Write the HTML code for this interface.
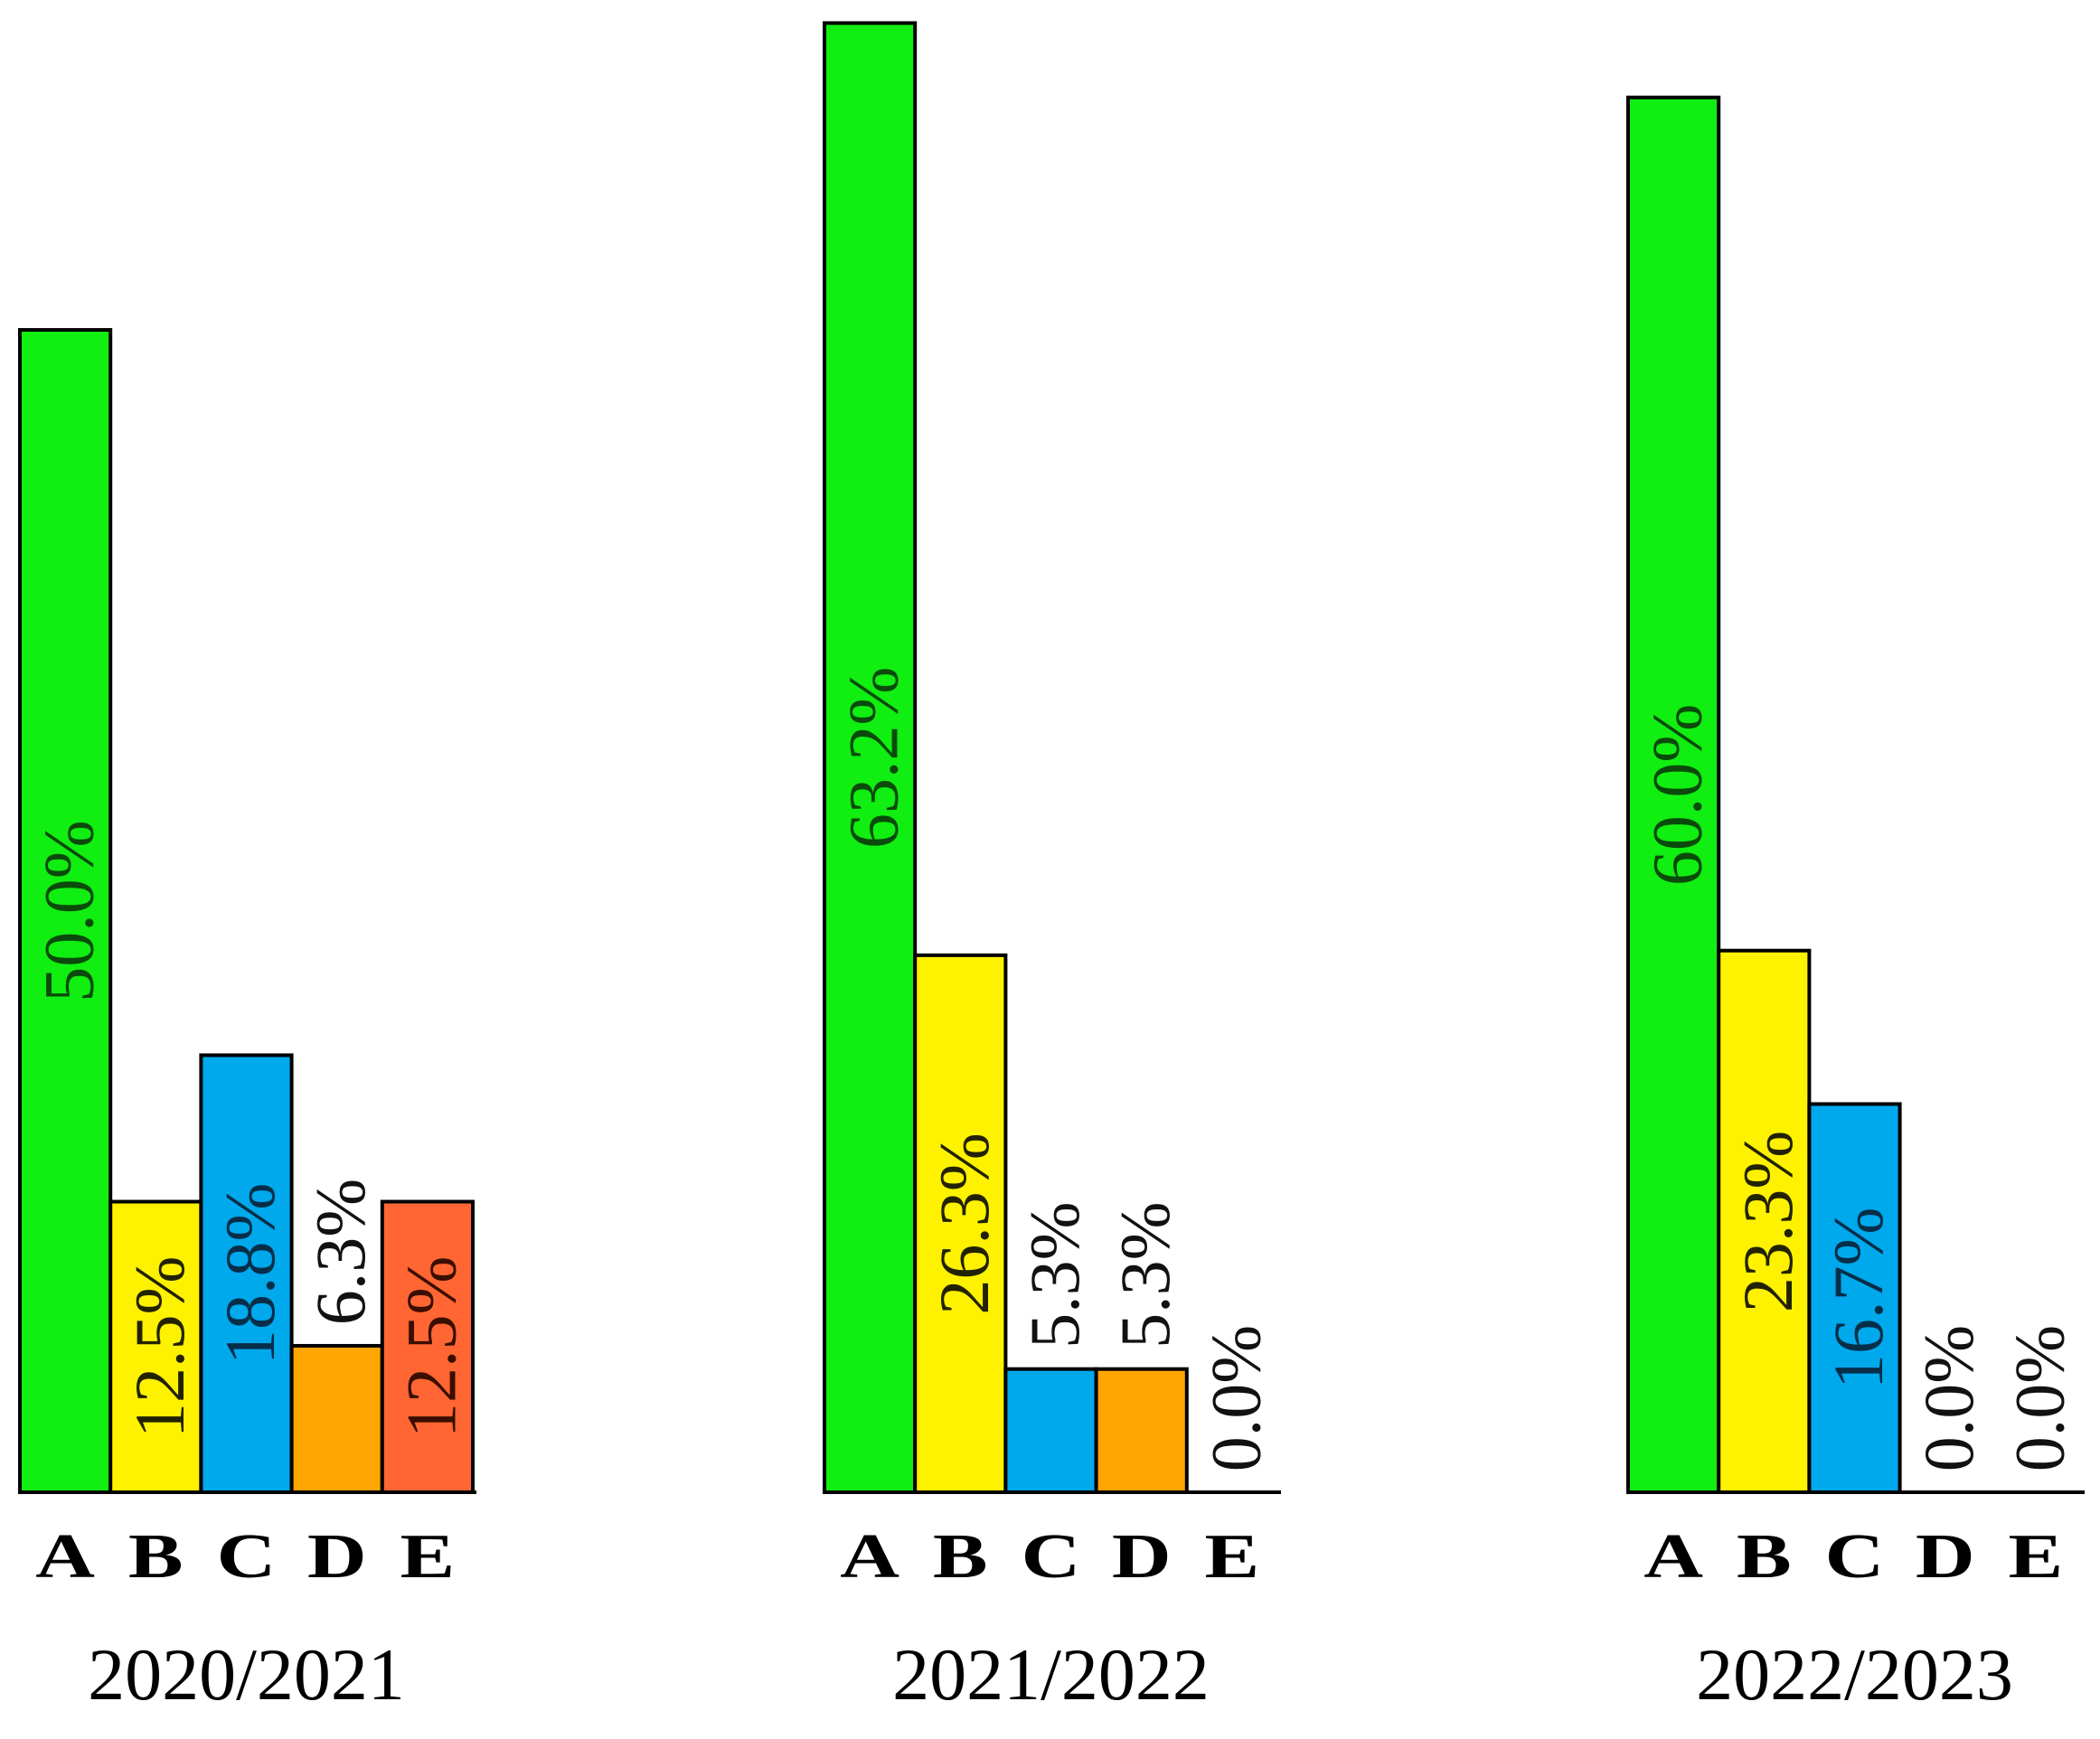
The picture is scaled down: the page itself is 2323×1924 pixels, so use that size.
<!DOCTYPE html>
<html><head><meta charset="utf-8"><style>
html,body{margin:0;padding:0;background:#fff;}
svg{display:block;}
text{font-family:"Liberation Serif",serif;}
</style></head>
<body>
<svg id="chart" width="2323" height="1924" viewBox="0 0 2323 1924" xmlns="http://www.w3.org/2000/svg"></svg>
<script>
const categories = ["A","B","C","D","E"];
const years = ["2020/2021","2021/2022","2022/2023"];
const values2020 = [50.0,12.5,18.8,6.3,12.5];
const values2021 = [63.2,23.1,5.3,5.3,0.0];
const values2022 = [60.0,23.3,16.7,0.0,0.0];
const valueLabels2020 = ["50.0%","12.5%","18.8%","6.3%","12.5%"];
const valueLabels2021 = ["63.2%","26.3%","5.3%","5.3%","0.0%"];
const valueLabels2022 = ["60.0%","23.3%","16.7%","0.0%","0.0%"];

const allValues=[values2020,values2021,values2022];
const allLabels=[valueLabels2020,valueLabels2021,valueLabels2022];
const fills=["#11ee11","#fff200","#00a8ec","#ffa500","#ff6633"];
const inkInside=["#0a4a0a","#222200","#062e48","#222","#3a0e00"];
const NS="http://www.w3.org/2000/svg";
const svg=document.getElementById('chart');
const baseY=1651, pxPerPct=25.72, barW=100.2;
const panelX=[22,912,1801];
function yScale(v){return baseY - v*pxPerPct;}
function xScale(p,i){return panelX[p]+i*barW;}
function mk(tag,attrs){const e=document.createElementNS(NS,tag);for(const k in attrs)e.setAttribute(k,attrs[k]);svg.appendChild(e);return e;}
const textLen=200;
for(let p=0;p<3;p++){
  const vals=allValues[p], labs=allLabels[p];
  for(let i=0;i<categories.length;i++){
    const v=vals[i], x=xScale(p,i), y=yScale(v);
    if(v>0){
      const r=mk('rect',{x:x,y:y,width:barW,height:baseY-y,fill:fills[i],stroke:'#000','stroke-width':4});
      
      
    }
    const h=baseY-y;
    let cy, col;
    if(h>textLen+20){cy=(y+baseY)/2;col=inkInside[i];}
    else{cy=y-4-textLen/2;col='#111';}
    const cx=x+barW/2+4;
    const t=mk('text',{x:cx,y:cy,'font-size':78,'text-anchor':'middle','dominant-baseline':'central',fill:col,transform:'rotate(-90 '+cx+' '+cy+')'});
    t.textContent=labs[i];
    
    
    const lx=x+barW/2;
    const c=mk('text',{x:lx,y:1745,'font-size':70,'font-weight':'bold','text-anchor':'middle',fill:'#000',transform:'translate('+lx+' 0) scale(1.3 1) translate('+(-lx)+' 0)'});
    c.textContent=categories[i];
    
    
  }
  const ax=mk('line',{x1:panelX[p]-2,y1:baseY,x2:xScale(p,5)+4,y2:baseY,stroke:'#000','stroke-width':4});
  
  
  const yl=mk('text',{x:panelX[p]+2.5*barW,y:1880,'font-size':82,'text-anchor':'middle',fill:'#000'});
  yl.textContent=years[p];
  
  
}
</script>
</body></html>
